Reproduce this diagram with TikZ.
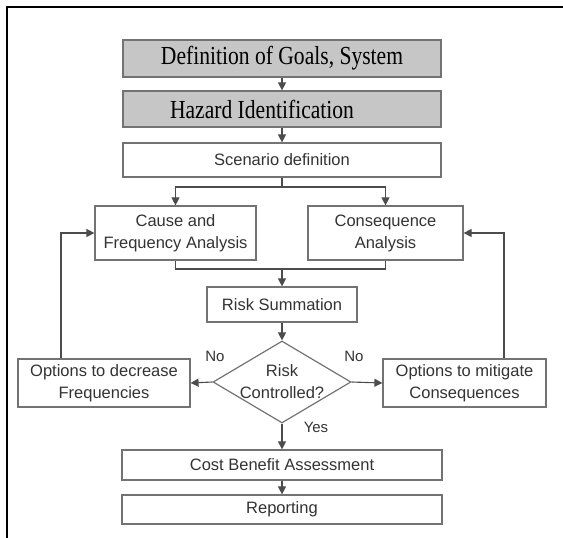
\documentclass[tikz,border=0pt]{standalone}
\usepackage{graphicx}
\usepackage{fontspec}
\setmainfont{Liberation Serif}
\setsansfont{Liberation Sans}
\usetikzlibrary{shapes.geometric, arrows.meta}

\begin{document}
\begin{tikzpicture}[x=1pt, y=-1pt,
        hazbox/.style={draw=black!55, line width=1.2pt, fill=gray!45, minimum width=318pt, inner sep=0pt, font=\fontsize{26}{28}\selectfont},
        stepbox/.style={draw=black!55, line width=1.2pt, fill=white, inner sep=0pt, align=center, text=black!80, font=\sffamily\fontsize{16.5}{22}\selectfont},
        decision/.style={draw=black!55, line width=1.2pt, diamond, minimum width=138pt, minimum height=82pt, inner sep=0pt},
        lbl/.style={text=black!80, font=\sffamily\fontsize{15}{18}\selectfont},
        link/.style={draw=black!70, line width=1.1pt},
        arrow/.style={link, -{Triangle[length=8pt, width=8pt]}}]
        \useasboundingbox (0,0) rectangle (563,538);

        % Frame (top and left edge only)
        \draw[line width=2.2pt] (563,7) -- (7,7) -- (7,538);

        % Top boxes (gray)
        \node[hazbox, minimum height=37pt] (goals) at (282,58.5) {\scalebox{0.83}[1]{Definition of Goals, System}};
        \node[hazbox, minimum height=36pt] (hazard) at (282,109) {\scalebox{0.83}[1]{Hazard Identification}\hspace*{40pt}};

        % Analysis steps
        \node[stepbox, minimum width=318pt, minimum height=34pt] (scen) at (282,160) {Scenario definition};
        \node[stepbox, minimum width=161pt, minimum height=54pt] (cause) at (175.5,233) {Cause and\\Frequency Analysis};
        \node[stepbox, minimum width=155pt, minimum height=54pt] (conseq) at (385.5,233) {Consequence\\Analysis};
        \node[stepbox, minimum width=150pt, minimum height=35pt] (sum) at (282,304.5) {Risk Summation};

        % Decision
        \node[decision] (ctrl) at (282,382) {};
        \node[stepbox, draw=none, fill=none] (ctrltxt) at (282,382) {Risk\\Controlled?};

        % Options
        \node[stepbox, minimum width=172pt, minimum height=48pt] (optdec) at (104,383) {Options to decrease\\Frequencies};
        \node[stepbox, minimum width=163pt, minimum height=48pt] (optmit) at (464.5,383) {Options to mitigate\\Consequences};

        % Final steps
        \node[stepbox, minimum width=320pt, minimum height=30pt] (cba) at (282,465) {Cost Benefit Assessment};
        \node[stepbox, minimum width=320pt, minimum height=29pt] (rep) at (282,509.5) {Reporting};

        % Labels
        \node[lbl] (noleft) at (215,356) {No};
        \node[lbl] (noright) at (354,356) {No};
        \node[lbl] (yes) at (316,427) {Yes};

        % Helper points
        \coordinate (split) at (282,187);
        \coordinate (merge) at (282,269);
        \coordinate (fbl) at (61,0);
        \coordinate (fbr) at (504,0);

        % Connectors
        \draw[arrow] (goals) -- (hazard);
        \draw[arrow] (hazard) -- (scen);
        \draw[link] (scen.south) -- (split);
        \draw[arrow] (split) -| (cause.north);
        \draw[arrow] (split) -| (conseq.north);
        \draw[link] (cause.south) |- (merge) -| (conseq.south);
        \draw[arrow] (merge) -- (sum.north);
        \draw[arrow] (sum) -- (ctrl.north);
        \draw[arrow] (ctrl.west) -- (optdec.east);
        \draw[arrow] (ctrl.east) -- (optmit.west);
        \draw[arrow] (ctrl.south) -- (cba.north);
        \draw[arrow] (cba) -- (rep);
        \draw[arrow] (optdec.north -| fbl) |- (cause.west);
        \draw[arrow] (optmit.north -| fbr) |- (conseq.east);
\end{tikzpicture}
\end{document}
